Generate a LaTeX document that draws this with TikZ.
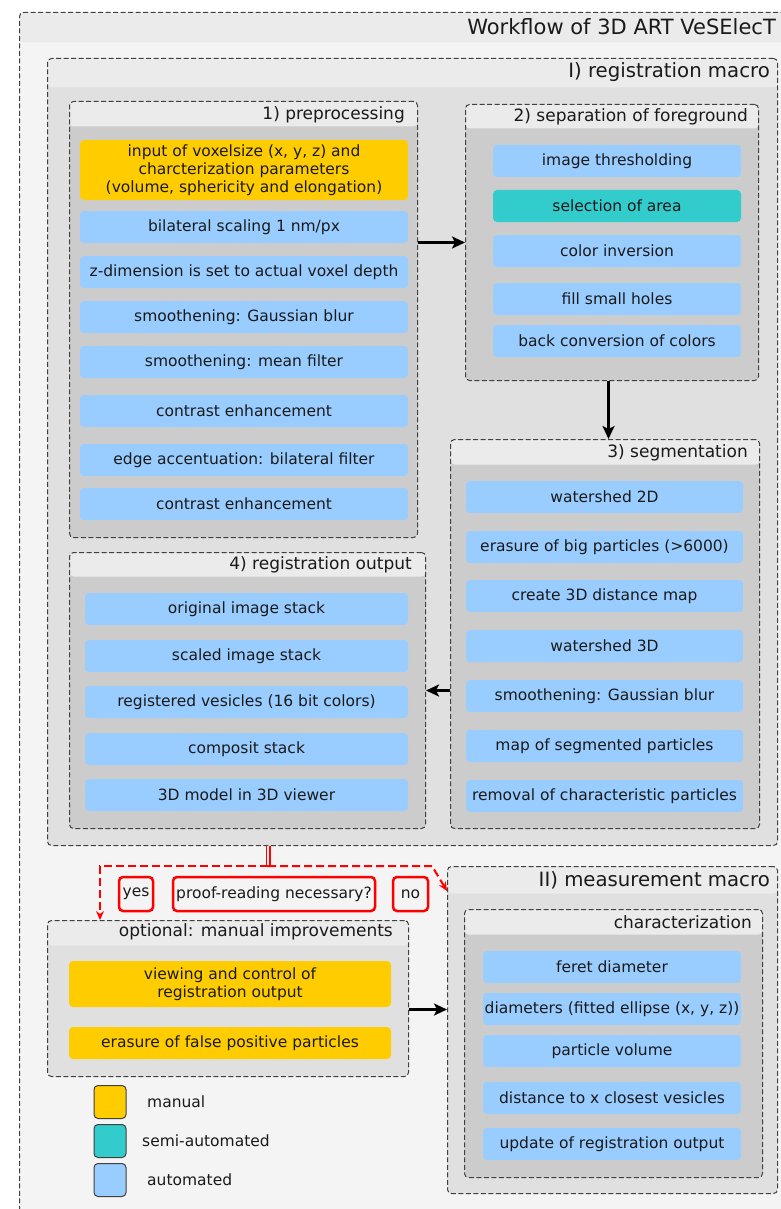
\documentclass[tikz,border=0pt]{standalone}
\usepackage{fontspec}
\setmainfont{DejaVu Sans}
\usetikzlibrary{arrows.meta,calc}
\definecolor{ylw}{HTML}{FFCC00}
\definecolor{blu}{HTML}{99CCFF}
\definecolor{tea}{HTML}{33CCCC}
\definecolor{gbody}{HTML}{CCCCCC}
\definecolor{gmid}{HTML}{E0E0E0}
\definecolor{ghead}{HTML}{EBEBEB}
\definecolor{gout}{HTML}{F4F4F4}
\definecolor{bord}{HTML}{404040}
\definecolor{txt}{HTML}{1A1A1A}
\definecolor{rd}{HTML}{FF0000}
\begin{document}
\begin{tikzpicture}[x=1pt,y=-1pt,
  grp/.style 2 args={draw=bord, line width=1pt, dash pattern=on 5pt off 2.5pt,
    rounded corners=4pt, fill=#1, anchor=north west, inner sep=0pt,
    path picture={\fill[ghead] (path picture bounding box.north west) rectangle ([yshift=-#2]path picture bounding box.north east);}},
  ttl/.style={anchor=east, inner sep=0pt, text=txt, font=\fontsize{17}{20}\selectfont},
  bigttl/.style={anchor=east, inner sep=0pt, text=txt, font=\fontsize{19.7}{23}\selectfont},
  item/.style={fill=#1, rounded corners=4pt, minimum height=32pt, inner sep=0pt,
    align=center, text=txt, font=\fontsize{15.5}{18}\selectfont},
  wa/.style={minimum width=328pt}, wb/.style={minimum width=248pt},
  wc/.style={minimum width=277pt}, wd/.style={minimum width=323pt},
  we/.style={minimum width=322pt}, wf/.style={minimum width=258pt},
  flow/.style={line width=3pt, -{Stealth[length=13pt,width=12pt,inset=3pt]}},
  rdash/.style={draw=rd, line width=2pt, dash pattern=on 8pt off 4pt},
  rbox/.style={draw=rd, line width=2.5pt, rounded corners=4pt, inner sep=0pt,
    minimum height=34pt, text=txt, font=\fontsize{15.5}{18}\selectfont},
  legbox/.style={draw=bord, line width=1pt, rounded corners=4pt, minimum width=32pt, minimum height=33pt, inner sep=0pt, fill=#1},
  legtxt/.style={anchor=west, inner sep=0pt, text=txt, font=\fontsize{15.5}{18}\selectfont}
]
\useasboundingbox (0,0) rectangle (781,1209);
\fill[white] (0,0) rectangle (781,1209);

% outer
\node[grp={gout}{30pt}, minimum width=800pt, minimum height=1250pt] (wf) at (19,12) {};
\node[ttl, font=\fontsize{21}{25}\selectfont] (wft) at (776,27) {Workflow of 3D ART VeSElecT};

% I) registration macro
\node[grp={gmid}{29pt}, minimum width=730pt, minimum height=787pt] (regI) at (47,58) {};
\node[bigttl] (regIt) at (770,72) {I) registration macro};

% 1) preprocessing
\node[grp={gbody}{25pt}, minimum width=348pt, minimum height=436pt] (pre) at (69,101) {};
\node[ttl] (pret) at (405,115) {1) preprocessing};
\node[item=ylw, wa, minimum height=60pt] (p1) at (244,170) {input of voxelsize (x, y, z) and\\ charcterization parameters\\ (volume, sphericity and elongation)};
\node[item=blu, wa] (p2) at (244,227) {bilateral scaling 1 nm/px};
\node[item=blu, wa] (p3) at (244,272) {z-dimension is set to actual voxel depth};
\node[item=blu, wa] (p4) at (244,317) {smoothening: Gaussian blur};
\node[item=blu, wa] (p5) at (244,362) {smoothening: mean filter};
\node[item=blu, wa] (p6) at (244,411) {contrast enhancement};
\node[item=blu, wa] (p7) at (244,460) {edge accentuation: bilateral filter};
\node[item=blu, wa] (p8) at (244,504) {contrast enhancement};

% 2) separation of foreground
\node[grp={gbody}{24pt}, minimum width=293pt, minimum height=276pt] (sep) at (465,104) {};
\node[ttl] (sept) at (748,117) {2) separation of foreground};
\node[item=blu, wb] (s1) at (617,161) {image thresholding};
\node[item=tea, wb] (s2) at (617,206) {selection of area};
\node[item=blu, wb] (s3) at (617,251) {color inversion};
\node[item=blu, wb] (s4) at (617,299) {fill small holes};
\node[item=blu, wb] (s5) at (617,341) {back conversion of colors};

% 3) segmentation
\node[grp={gbody}{25pt}, minimum width=309pt, minimum height=389pt] (seg) at (450,439) {};
\node[ttl] (segt) at (748,453) {3) segmentation};
\node[item=blu, wc] (g1) at (604.5,497) {watershed 2D};
\node[item=blu, wc] (g2) at (604.5,547) {erasure of big particles (>6000)};
\node[item=blu, wc] (g3) at (604.5,596) {create 3D distance map};
\node[item=blu, wc] (g4) at (604.5,646) {watershed 3D};
\node[item=blu, wc] (g5) at (604.5,696) {smoothening: Gaussian blur};
\node[item=blu, wc] (g6) at (604.5,746) {map of segmented particles};
\node[item=blu, wc] (g7) at (604.5,796) {removal of characteristic particles};

% 4) registration output
\node[grp={gbody}{24pt}, minimum width=356pt, minimum height=276pt] (out) at (69,552) {};
\node[ttl] (outt) at (412,565) {4) registration output};
\node[item=blu, wd] (o1) at (246.5,609) {original image stack};
\node[item=blu, wd] (o2) at (246.5,656) {scaled image stack};
\node[item=blu, wd] (o3) at (246.5,702) {registered vesicles (16 bit colors)};
\node[item=blu, wd] (o4) at (246.5,749) {composit stack};
\node[item=blu, wd] (o5) at (246.5,795) {3D model in 3D viewer};

% optional
\node[grp={gmid}{25pt}, minimum width=361pt, minimum height=156pt] (opt) at (47,920) {};
\node[ttl] (optt) at (393,932) {optional: manual improvements};
\node[item=ylw, we, minimum height=46pt] (m1) at (230,984) {viewing and control of\\ registration output};
\node[item=ylw, we] (m2) at (230,1043) {erasure of false positive particles};

% II) measurement macro
\node[grp={gmid}{27pt}, minimum width=330pt, minimum height=327pt] (meas) at (447,866) {};
\node[bigttl] (meast) at (770,880) {II) measurement macro};
\node[grp={gbody}{25pt}, minimum width=298pt, minimum height=268pt] (char) at (464,909) {};
\node[ttl] (chart) at (752,922) {characterization};
\node[item=blu, wf] (c1) at (612,967) {feret diameter};
\node[item=blu, wf] (c2) at (612,1009) {diameters (fitted ellipse (x, y, z))};
\node[item=blu, wf] (c3) at (612,1051) {particle volume};
\node[item=blu, wf] (c4) at (612,1098) {distance to x closest vesicles};
\node[item=blu, wf] (c5) at (612,1144) {update of registration output};

% legend
\node[legbox=ylw] (l1) at (110,1102) {};
\node[legbox=tea] (l2) at (110,1141) {};
\node[legbox=blu] (l3) at (110,1180) {};
\node[legtxt] (l1t) at (147,1102) {manual};
\node[legtxt] (l2t) at (142,1141) {semi-automated};
\node[legtxt] (l3t) at (147,1180) {automated};

% flow arrows
\draw[flow] (sep.west -| pre.east) -- (sep.west);
\draw[flow] ([xshift=-3.5pt]sep.south) -- ([xshift=-3.5pt]sep.south |- seg.north);
\draw[flow] (seg.west |- out.east) -- (out.east);
\draw[flow] ([yshift=-11pt]opt.east) -- ([yshift=-11pt]opt.east -| meas.west);

% decision
\coordinate (split) at (268,866);
\coordinate (lt) at (100,866);
\coordinate (rt) at (432,866);
\draw[draw=rd, line width=1.6pt, double=gout, double distance=1.8pt] (regI.south -| split) -- (split);
\draw[rdash, -{Stealth[length=9pt,width=8pt]}] (split) -- (lt) -- (opt.north -| lt);
\draw[rdash, -{Stealth[length=9pt,width=8pt]}] (split) -- (rt) -- ([yshift=-25pt]meas.north west);
\node[rbox, minimum width=34pt] (yes) at (136,894) {yes};
\node[rbox, minimum width=202pt] (q) at (274,894) {proof-reading necessary?};
\node[rbox, minimum width=35pt] (no) at (410.5,894) {no};
\end{tikzpicture}
\end{document}
